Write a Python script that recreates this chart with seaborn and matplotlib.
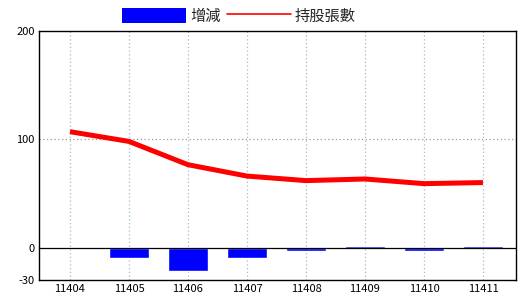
import matplotlib
matplotlib.use("Agg")
import matplotlib.pyplot as plt
import seaborn as sns
import pandas as pd
from matplotlib.patches import Patch
from matplotlib.lines import Line2D

months = ["11404", "11405", "11406", "11407", "11408", "11409", "11410", "11411"]
change = [0, -10, -21.5, -10, -3, 1.5, -3, 1.5]
holdings = [107, 98, 76.5, 66, 61.8, 63.3, 59, 60]
yticks = [-30, 0, 100, 200]

sns.set_theme(style="white")
plt.rcParams['font.family'] = ['Noto Sans CJK TC', 'DejaVu Sans']

df = pd.DataFrame({"month": months, "change": change, "holdings": holdings})
df["pos"] = range(len(months))

fig = plt.figure(figsize=(5.2, 3.0), dpi=100)
ax = fig.add_axes([39/520, 1-280/300, (516-39)/520, (280-31)/300])

for p in df["pos"]:
    ax.axvline(p, color="#9fbfcf", lw=0.9, ls=(0, (1, 2)), zorder=0)
ax.axhline(100, color="#999999", lw=0.9, ls=(0, (1, 2)), zorder=0)

sns.barplot(data=df, x="month", y="change", color="#0000ff", width=0.68,
            saturation=1, ax=ax, zorder=2)
ax.axhline(0, color="black", lw=0.9, zorder=3)
sns.lineplot(data=df, x="pos", y="holdings", color="#ff0000", lw=3.6, ax=ax,
             zorder=4, solid_capstyle="butt", solid_joinstyle="round")

ax.set_xlim(-0.525, 7.56)
ax.set_ylim(-30, 200)
ax.set_yticks(yticks)
ax.set_yticklabels([str(v) for v in yticks])
ax.set_xticks(range(len(months)))
ax.set_xticklabels(months)
ax.set_xlabel("")
ax.set_ylabel("")
ax.tick_params(axis="both", length=0, labelsize=8, colors="black")
ax.tick_params(axis="y", pad=3)
ax.tick_params(axis="x", pad=3)
for s in ax.spines.values():
    s.set_color("black")
    s.set_linewidth(1.0)
    s.set_visible(True)

handles = [Patch(facecolor="#0000ff", edgecolor="none"),
           Line2D([0], [0], color="#ff0000", lw=1.2)]
fig.legend(handles, ["增減", "持股張數"], loc="center", ncol=2,
           bbox_to_anchor=(239/520, 1-16/300), frameon=False,
           fontsize=11, handlelength=4.2, handleheight=1.1,
           handletextpad=0.25, columnspacing=0.4, borderpad=0, borderaxespad=0)

fig.savefig("out.png", dpi=100)
